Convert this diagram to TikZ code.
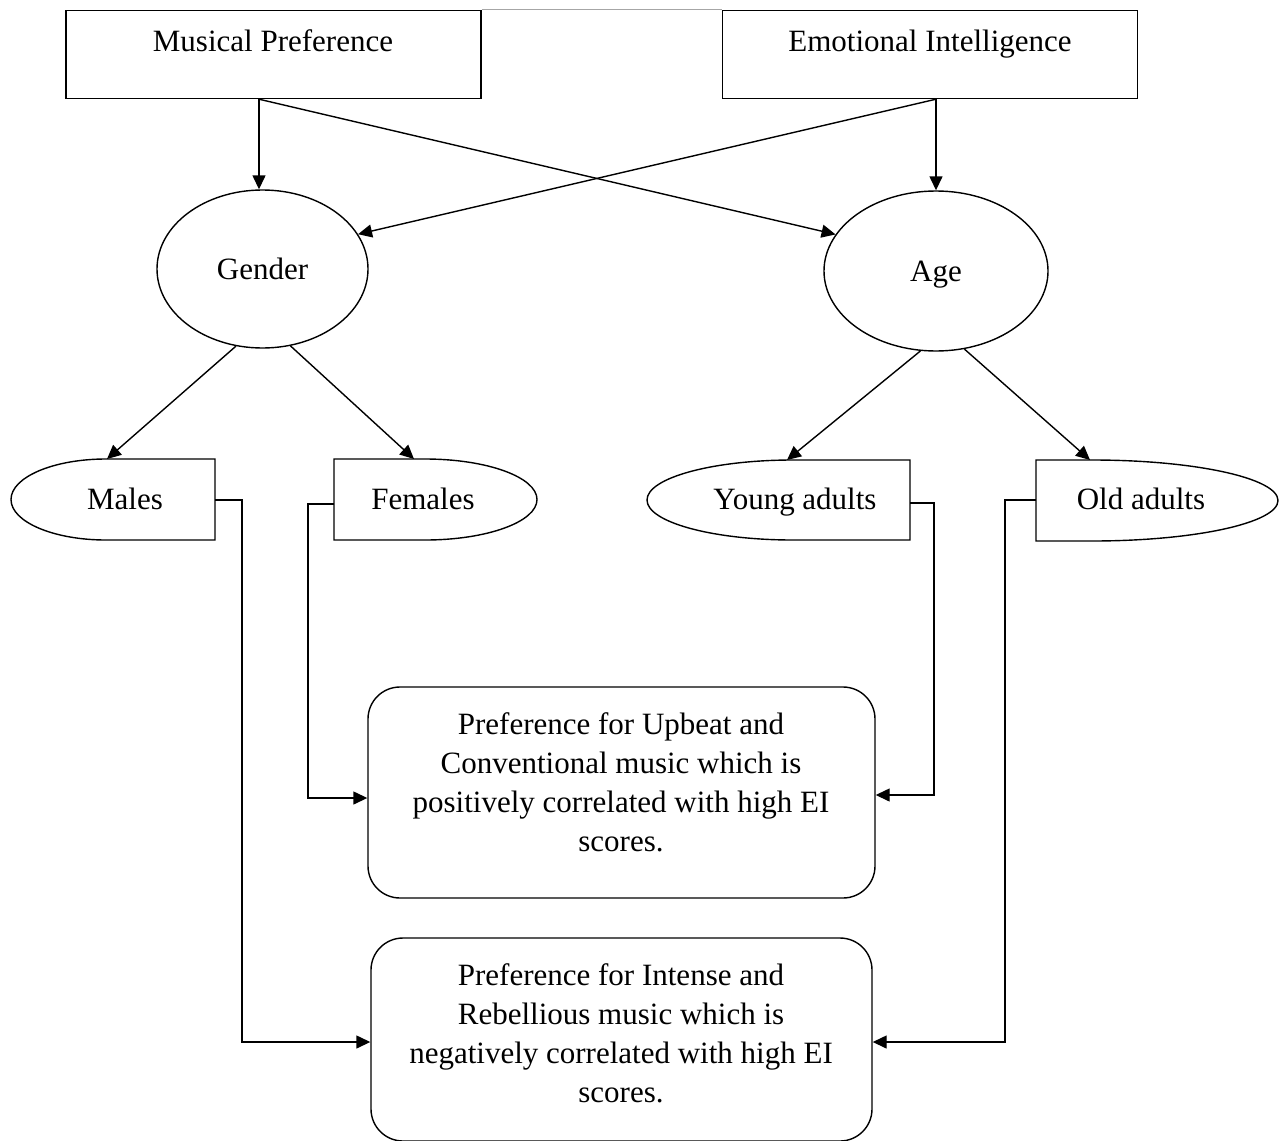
\documentclass[tikz,border=0pt]{standalone}
\usepackage{fontspec}
\setmainfont{Liberation Serif}
\usetikzlibrary{arrows.meta,shapes.geometric}
\begin{document}
\begin{tikzpicture}[x=1pt,y=-1pt,line width=1.4pt,
  every node/.style={font=\fontsize{31}{39}\selectfont},
  topbox/.style={draw,rectangle,minimum width=415pt,minimum height=88pt},
  oval/.style={draw,ellipse,text height=21.5pt,text depth=0pt},
  resultbox/.style={draw,rounded corners=32pt},
  txt/.style={align=center,inner sep=0pt},
  word/.style={inner sep=0pt,text height=21.5pt,text depth=0pt},
  arr/.style={-{Triangle[length=14pt,width=13pt]}}]
\useasboundingbox (0,0) rectangle (1287,1140);

% top level boxes
\node[topbox] (mp) at (273.5,54.5) {};
\node[word] (mpt) at (273,41) {Musical Preference};
\node[topbox] (ei) at (930,54.5) {};
\node[word] (eit) at (930,41) {Emotional Intelligence};
\draw[gray!70,line width=1pt] (mp.north east) -- (ei.north west);

% demographic factors
\node[oval,minimum width=211pt,minimum height=158pt] (gender) at (262.5,269) {Gender};
\node[oval,minimum width=224pt,minimum height=160pt] (age) at (936,271) {Age};

% sub-groups: half ellipse joined to a rectangle
\draw (215,459) -- (106,459) arc[start angle=270,end angle=90,x radius=95,y radius=40.5] -- (215,540) -- cycle;
\node[word] (males) at (125,499) {Males};
\draw (334,459) -- (425,459) arc[start angle=270,end angle=450,x radius=112,y radius=40.5] -- (334,540) -- cycle;
\node[word] (females) at (423,499) {Females};
\draw (910,460) -- (793,460) arc[start angle=270,end angle=90,x radius=146,y radius=40] -- (910,540) -- cycle;
\node[word] (young) at (795,499) {Young adults};
\draw (1036,460) -- (1092,460) arc[start angle=270,end angle=450,x radius=186,y radius=40.5] -- (1036,541) -- cycle;
\node[word] (old) at (1141,499) {Old adults};

\coordinate (malesN) at (107,459);
\coordinate (femalesN) at (414,459);
\coordinate (youngN) at (787,460);
\coordinate (oldN) at (1090,460);
\coordinate (malesE) at (215,500);
\coordinate (femalesW) at (334,504);
\coordinate (youngE) at (910,503);
\coordinate (oldW) at (1036,500);

% outcome boxes
\node[resultbox,minimum width=507pt,minimum height=211pt] (up) at (621.5,792.5) {};
\node[txt] (upt) at (621,782) {Preference for Upbeat and\\Conventional music which is\\positively correlated with high EI\\scores.};
\node[resultbox,minimum width=501pt,minimum height=203pt] (in) at (621.5,1039.5) {};
\node[txt] (int) at (621,1033) {Preference for Intense and\\Rebellious music which is\\negatively correlated with high EI\\scores.};

% connectors
\draw[arr] (mp.south -| 259,0) -- (gender.north -| 259,0);
\draw[arr] (ei.south -| 936,0) -- (age.north);
\draw[arr] (mp.south -| 259,0) -- (age.160);
\draw[arr] (ei.south -| 936,0) -- (gender.20);
\draw[arr] (gender.251) -- (malesN);
\draw[arr] (gender.290) -- (femalesN);
\draw[arr] (age.259) -- (youngN);
\draw[arr] (age.290) -- (oldN);

\draw[arr] (malesE) -| (242,1042) -- (in.west |- 0,1042);
\draw[arr] (femalesW) -| (308,798) -- (up.west |- 0,798);
\draw[arr] (youngE) -| (934,795) -- (up.east |- 0,795);
\draw[arr] (oldW) -| (1005,1042) -- (in.east |- 0,1042);
\end{tikzpicture}
\end{document}
